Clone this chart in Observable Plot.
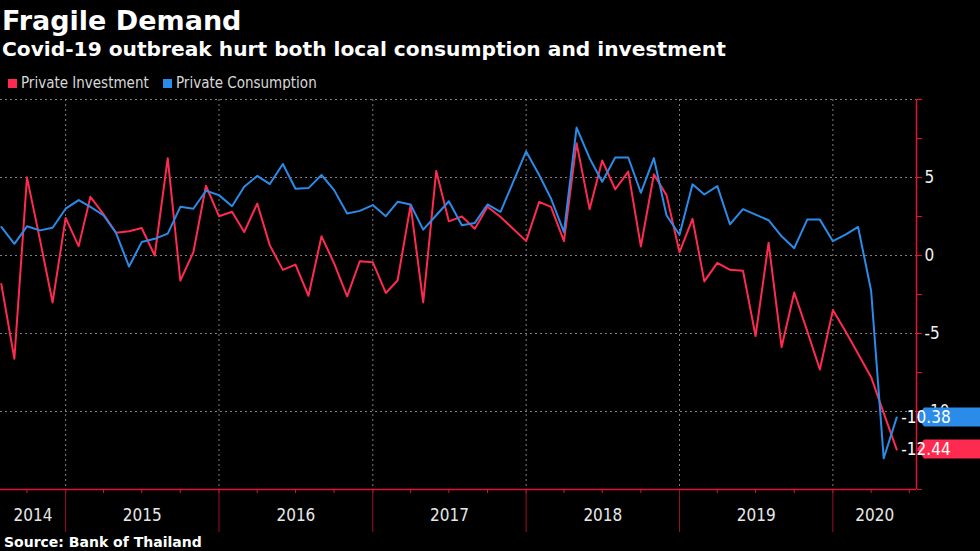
<!DOCTYPE html>
<html>
<head>
<meta charset="utf-8">
<script src="https://cdn.jsdelivr.net/npm/d3@7"></script>
<script src="https://cdn.jsdelivr.net/npm/@observablehq/plot@0.6"></script>
<style>
  html, body { margin: 0; padding: 0; background: #000; }
  body { width: 980px; height: 551px; overflow: hidden; position: relative; color: #fff; font-family: "DejaVu Sans", sans-serif; }
  #title { position: absolute; left: 2px; top: 7px; font-size: 27px; line-height: 27px; font-weight: bold; white-space: nowrap; }
  #subtitle { position: absolute; left: 2px; top: 39px; font-size: 20.2px; line-height: 20px; font-weight: bold; white-space: nowrap; }
  #legend { position: absolute; left: 0; top: 76px; font-family: "Liberation Sans Narrow", "DejaVu Sans Condensed", sans-serif; font-size: 15px; line-height: 15px; color: #d8d8d8; white-space: nowrap; }
  #legend span.item { position: absolute; top: 0; }
  #legend span.sw { position: absolute; width: 9px; height: 9px; top: 3px; }
  #chart { position: absolute; left: 0; top: 90px; }
  #source { position: absolute; left: 4px; top: 535px; font-size: 14px; line-height: 14px; font-weight: bold; white-space: nowrap; }
</style>
</head>
<body>
<div id="title">Fragile Demand</div>
<div id="subtitle">Covid-19 outbreak hurt both local consumption and investment</div>
<div id="legend"></div>
<div id="chart"></div>
<div id="source">Source: Bank of Thailand</div>
<script>
// ---- data ----
const seriesNames = ["Private Investment", "Private Consumption"];
const seriesColors = ["#ff2a50", "#2b8be8"];
const firstMonth = "2014-07"; // monthly, Jul 2014 .. May 2020
const investment = [
  -1.83, -6.62, 5.01, 1.0, -3.01, 2.41,
  0.6, 3.76, 2.65, 1.46, 1.55, 1.76, 0.0, 6.24, -1.61, 0.21, 4.47, 2.52,
  2.8, 1.5, 3.33, 0.65, -0.92, -0.58, -2.58, 1.23, -0.5, -2.62, -0.37, -0.43,
  -2.4, -1.6, 3.23, -3.01, 5.42, 2.19, 2.5, 1.72, 3.12, 2.47, 1.72, 0.92,
  3.44, 3.12, 0.92, 7.2, 2.97, 6.09, 4.24, 5.38, 0.58, 5.2, 3.87, 0.21,
  2.35, -1.66, -0.47, -0.92, -0.97, -5.16, 0.82, -5.87, -2.37, -4.85, -7.31, -3.5,
  -4.9, -6.3, -7.8, -10.1, -12.44
];
const consumption = [
  1.83, 0.75, 1.87, 1.61, 1.78, 3.0,
  3.55, 3.12, 2.58, 1.44, -0.71, 0.86, 1.07, 1.4, 3.12, 3.0, 4.15, 3.87,
  3.16, 4.41, 5.1, 4.58, 5.87, 4.28, 4.32, 5.16, 4.19, 2.69, 2.86, 3.23,
  2.52, 3.44, 3.27, 1.66, 2.58, 3.48, 1.94, 2.09, 3.27, 2.8, 4.7, 6.67,
  5.16, 3.66, 1.5, 8.2, 6.24, 4.73, 6.28, 6.28, 4.02, 6.24, 2.58, 1.33,
  4.56, 3.91, 4.45, 2.0, 2.97, 2.62, 2.26, 1.23, 0.47, 2.3, 2.3, 0.92,
  1.35, 1.83, -2.26, -13.0, -10.38
];
const yearLabels = ["2014", "2015", "2016", "2017", "2018", "2019", "2020"];
const yTicks = [10, 7.5, 5, 2.5, 0, -2.5, -5, -7.5, -10, -12.5, -15];
const yLabelled = [5, 0, -5, -10];
const yGrid = [10, 5, 0, -5, -10];
const xStart = "2014-07-30", xEnd = "2020-07-18";

// ---- build ----
const parseMonth = d3.utcParse("%Y-%m");
const m0 = parseMonth(firstMonth);
const months = d3.range(investment.length).map(i => d3.utcMonth.offset(m0, i));
// values are plotted at the end of each month
const rows = [];
months.forEach((m, i) => {
  const d = d3.utcMonth.offset(m, 1);
  rows.push({date: d, series: seriesNames[0], value: investment[i]});
  rows.push({date: d, series: seriesNames[1], value: consumption[i]});
});
const domainX = [new Date(xStart), new Date(xEnd)];
const yearStarts = yearLabels.slice(1).map(y => new Date(Date.UTC(+y, 0, 1)));
const quarterStarts = d3.utcMonth.every(3).range(domainX[0], domainX[1]);
const yearMids = yearLabels.map(y => {
  const a = Math.max(+new Date(Date.UTC(+y, 0, 1)), +domainX[0]);
  const b = Math.min(+new Date(Date.UTC(+y + 1, 0, 1)), +domainX[1]);
  return {label: y, date: new Date((a + b) / 2)};
});
const lastValues = [
  {value: consumption[consumption.length - 1], color: seriesColors[1]},
  {value: investment[investment.length - 1], color: seriesColors[0]}
];

const axisRed = "#e0103a";
const gridColor = "#8c8c8c";
const narrow = '"Liberation Sans Narrow", "DejaVu Sans Condensed", sans-serif';

function valueTags(index, scales, values, dims) {
  const g = d3.create("svg:g");
  const x0 = dims.width - dims.marginRight;
  for (const t of lastValues) {
    const y = scales.y(t.value);
    g.append("path")
      .attr("d", `M${x0 + 1},${y} L${x0 + 8},${y - 9.5} L${dims.width},${y - 9.5} L${dims.width},${y + 9.5} L${x0 + 8},${y + 9.5} Z`)
      .attr("fill", t.color);
    g.append("text")
      .attr("x", x0 + 10).attr("y", y).attr("dy", "0.36em")
      .attr("fill", "#fff").attr("font-size", 17)
      .attr("font-family", narrow)
      .text(t.value.toFixed(2));
  }
  return g.node();
}

const plot = Plot.plot({
  width: 980,
  height: 445,
  marginTop: 9,
  marginBottom: 46,
  marginLeft: 0,
  marginRight: 64,
  style: {background: "#000", color: "#fff", overflow: "visible"},
  x: {type: "utc", domain: domainX, label: null},
  y: {domain: [-15, 10], label: null},
  color: {domain: seriesNames, range: seriesColors},
  marks: [
    Plot.gridY(yGrid, {stroke: gridColor, strokeOpacity: 0.9, strokeDasharray: "2,3"}),
    Plot.gridX(yearStarts, {stroke: gridColor, strokeOpacity: 0.9, strokeDasharray: "2,3"}),
    Plot.axisX({ticks: quarterStarts, tickSize: 4, tickFormat: () => "", stroke: axisRed, label: null}),
    Plot.axisX({ticks: yearStarts, tickSize: 43, tickFormat: () => "", stroke: "#9e0f2a", label: null}),
    Plot.text(yearMids, {x: "date", text: "label", frameAnchor: "bottom", dy: 31, fill: "#e8e8e8", fontSize: 17, fontFamily: narrow}),
    Plot.axisY({anchor: "right", ticks: yTicks, tickSize: 5, tickPadding: 3, stroke: axisRed, label: null,
      tickFormat: d => yLabelled.includes(d) ? String(d) : "", fill: "#f0f0f0", fontSize: 17, fontFamily: narrow}),
    Plot.ruleY([-15], {stroke: axisRed, strokeWidth: 1.5}),
    Plot.ruleX([domainX[1]], {stroke: axisRed, strokeWidth: 1.5}),
    Plot.line(rows.filter(r => r.series === seriesNames[0]), {x: "date", y: "value", stroke: "series", strokeWidth: 2}),
    Plot.line(rows.filter(r => r.series === seriesNames[1]), {x: "date", y: "value", stroke: "series", strokeWidth: 2}),
    valueTags
  ]
});
document.getElementById("chart").appendChild(plot);

// legend
const legend = document.getElementById("legend");
const swLeft = [8, 163];
const txtLeft = [21, 176];
seriesNames.forEach((name, i) => {
  const sw = document.createElement("span");
  sw.className = "sw"; sw.style.left = swLeft[i] + "px"; sw.style.background = seriesColors[i];
  legend.appendChild(sw);
  const t = document.createElement("span");
  t.className = "item"; t.style.left = txtLeft[i] + "px"; t.textContent = name;
  legend.appendChild(t);
});
</script>
</body>
</html>
